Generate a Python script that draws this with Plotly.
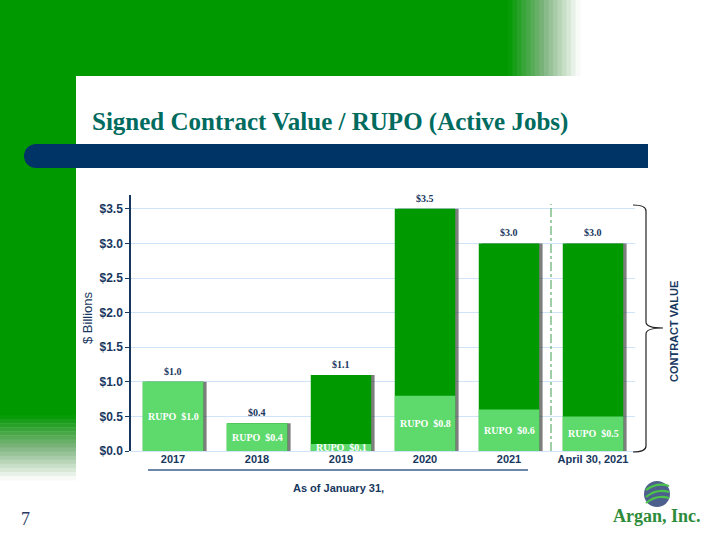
import plotly.graph_objects as go

# ---------------- data ----------------
categories = ["2017", "2018", "2019", "2020", "2021", "April 30, 2021"]
contract_value = [1.0, 0.4, 1.1, 3.5, 3.0, 3.0]
rupo = [1.0, 0.4, 0.1, 0.8, 0.6, 0.5]
top_labels = ["$1.0", "$0.4", "$1.1", "$3.5", "$3.0", "$3.0"]
rupo_labels = ["RUPO  $1.0", "RUPO  $0.4", "RUPO  $0.1", "RUPO  $0.8", "RUPO  $0.6", "RUPO  $0.5"]
y_ticks = [0, 0.5, 1.0, 1.5, 2.0, 2.5, 3.0, 3.5]
y_tick_text = ["$0.0", "$0.5", "$1.0", "$1.5", "$2.0", "$2.5", "$3.0", "$3.5"]

# ---------------- layout geometry (pixels) ----------------
W, H = 720, 540
L, R, T, B = 131, 635, 195, 451
NAVY = "#17375e"
GREEN = "#009900"
LIGHT = "#5ed96c"


def px(x):
    return (x - L) / (R - L)


def py(y):
    return (B - y) / (B - T)


def mix(c1, c2, t):
    a = [int(c1[i:i + 2], 16) for i in (1, 3, 5)]
    b = [int(c2[i:i + 2], 16) for i in (1, 3, 5)]
    return "#" + "".join(f"{round(a[k] + (b[k] - a[k]) * t):02x}" for k in range(3))


def grad(t):
    # green -> greyish green -> white
    if t < 0.5:
        return mix("#009900", "#80b480", t / 0.5)
    return mix("#80b480", "#ffffff", (t - 0.5) / 0.5)


idx = list(range(len(categories)))

fig = go.Figure()

# shadow
fig.add_trace(go.Bar(x=idx, y=contract_value, width=0.72, offset=-0.36 + 0.04,
                     marker=dict(color="rgba(40,40,40,0.6)", line=dict(width=0)),
                     hoverinfo="skip", showlegend=False))
# contract value
fig.add_trace(go.Bar(x=idx, y=contract_value, width=0.72, offset=-0.36,
                     marker=dict(color=GREEN, line=dict(width=0)), showlegend=False))
# RUPO
fig.add_trace(go.Bar(x=idx, y=rupo, width=0.72, offset=-0.36,
                     marker=dict(color=LIGHT, line=dict(width=0)), showlegend=False))

shapes = []
# background decoration
shapes.append(dict(type="rect", xref="paper", yref="paper", x0=px(0), x1=px(76), y0=py(0), y1=py(415),
                   fillcolor=GREEN, line=dict(width=0), layer="below"))
shapes.append(dict(type="rect", xref="paper", yref="paper", x0=px(0), x1=px(508), y0=py(0), y1=py(76),
                   fillcolor=GREEN, line=dict(width=0), layer="below"))
n = 16
for i in range(n):
    t = (i + 0.5) / n
    x0 = 508 + (580 - 508) * i / n
    x1 = 508 + (580 - 508) * (i + 1) / n
    shapes.append(dict(type="rect", xref="paper", yref="paper", x0=px(x0), x1=px(x1) + 0.001,
                       y0=py(0), y1=py(76), fillcolor=grad(t), line=dict(width=0), layer="below"))
    y0 = 415 + (480 - 415) * i / n
    y1 = 415 + (480 - 415) * (i + 1) / n
    shapes.append(dict(type="rect", xref="paper", yref="paper", x0=px(0), x1=px(76),
                       y0=py(y0), y1=py(y1) - 0.002, fillcolor=grad(t), line=dict(width=0), layer="below"))

# navy header bar with rounded left end
shapes.append(dict(type="rect", xref="paper", yref="paper", x0=px(36), x1=px(648), y0=py(144), y1=py(168),
                   fillcolor="#003366", line=dict(width=0), layer="below"))
shapes.append(dict(type="circle", xref="paper", yref="paper", x0=px(24), x1=px(48), y0=py(144), y1=py(168),
                   fillcolor="#003366", line=dict(width=0), layer="below"))

# underline beneath the January 31 categories
shapes.append(dict(type="line", xref="paper", yref="paper", x0=px(148), x1=px(528), y0=py(470), y1=py(470),
                   line=dict(color="#3d5f8f", width=1.5)))

# dash-dot separator between 2021 and April 30, 2021
shapes.append(dict(type="line", xref="x", yref="y", x0=4.5, x1=4.5, y0=0, y1=3.57,
                   line=dict(color="#3f9f4f", width=1, dash="dashdot")))

# bracket
bx0, bx1, tip = 633, 646, 663
ty, by, my = 205, 452, 328
path = (f"M {px(bx0)},{py(ty)} Q {px(bx1)},{py(ty)} {px(bx1)},{py(ty+6)} "
        f"L {px(bx1)},{py(my-6)} Q {px(bx1)},{py(my)} {px(tip)},{py(my)} "
        f"Q {px(bx1)},{py(my)} {px(bx1)},{py(my+6)} "
        f"L {px(bx1)},{py(by-6)} Q {px(bx1)},{py(by)} {px(bx0)},{py(by)}")
shapes.append(dict(type="path", xref="paper", yref="paper", path=path,
                   line=dict(color="#222222", width=1.2)))

# logo globe
shapes.append(dict(type="circle", xref="paper", yref="paper", x0=px(644), x1=px(670), y0=py(481), y1=py(507),
                   fillcolor="#4d5f8c", line=dict(width=0)))
for a, b in [(485, 490), (491, 497), (497, 503)]:
    shapes.append(dict(type="path", xref="paper", yref="paper",
                       path=f"M {px(646)},{py(b)} Q {px(657)},{py(a-3)} {px(669)},{py(a+1)}",
                       line=dict(color="#4cc24c", width=2.2)))

annotations = []
for i, v, t in zip(idx, contract_value, top_labels):
    annotations.append(dict(x=i, y=v, xref="x", yref="y", text=t, showarrow=False,
                            xanchor="center", yanchor="bottom", yshift=3,
                            font=dict(family="Liberation Serif", size=10, color=NAVY, weight="bold")))
for i, v, t in zip(idx, rupo, rupo_labels):
    annotations.append(dict(x=i, y=v / 2, xref="x", yref="y", text=t, showarrow=False,
                            xanchor="center", yanchor="middle",
                            font=dict(family="Liberation Serif", size=10, color="white", weight="bold")))


def note(x, y, text, font, angle=0, xanchor="center"):
    return dict(x=px(x), y=py(y), xref="paper", yref="paper", text=text, showarrow=False,
                xanchor=xanchor, yanchor="middle", textangle=angle, font=font)


annotations += [
    note(90, 122, "Signed Contract Value / RUPO (Active Jobs)",
         dict(family="Liberation Serif", size=25, color="#006b5e", weight="bold"), xanchor="left"),
    note(87, 318, "$ Billions", dict(family="Liberation Sans", size=13, color=NAVY), angle=-90),
    note(338, 488, "As of January 31,", dict(family="Liberation Sans", size=11, color=NAVY, weight="bold")),
    note(674, 332, "CONTRACT VALUE", dict(family="Liberation Sans", size=11, color=NAVY, weight="bold"), angle=-90),
    note(25, 519, "7", dict(family="Liberation Serif", size=18, color="#2a3a60")),
    note(657, 516, "Argan, Inc.", dict(family="Liberation Serif", size=18, color="#2e8b3a", weight="bold")),
]

fig.update_layout(
    width=W, height=H, autosize=False,
    margin=dict(l=L, r=W - R, t=T, b=H - B, pad=0),
    paper_bgcolor="white", plot_bgcolor="rgba(0,0,0,0)",
    barmode="overlay",
    shapes=shapes, annotations=annotations,
    xaxis=dict(range=[-0.5, 5.5], tickvals=idx, ticktext=categories, showgrid=False, showline=False,
               zeroline=False, ticks="",
               tickfont=dict(family="Liberation Sans", size=11, color=NAVY, weight="bold"),
               fixedrange=True),
    yaxis=dict(range=[0, 3.7], tickvals=y_ticks, ticktext=y_tick_text,
               showgrid=True, gridcolor="#cfe4f8", gridwidth=1,
               zeroline=True, zerolinecolor="#cfe4f8", zerolinewidth=1,
               showline=True, linecolor=NAVY, linewidth=1.5,
               ticks="outside", ticklen=4, tickcolor=NAVY,
               tickfont=dict(family="Liberation Sans", size=12, color=NAVY, weight="bold")),
    font=dict(family="Liberation Sans"),
)

fig.write_html("out.html", config={"displayModeBar": False},
               post_script="document.body.style.margin='0';document.body.style.overflow='hidden';")
